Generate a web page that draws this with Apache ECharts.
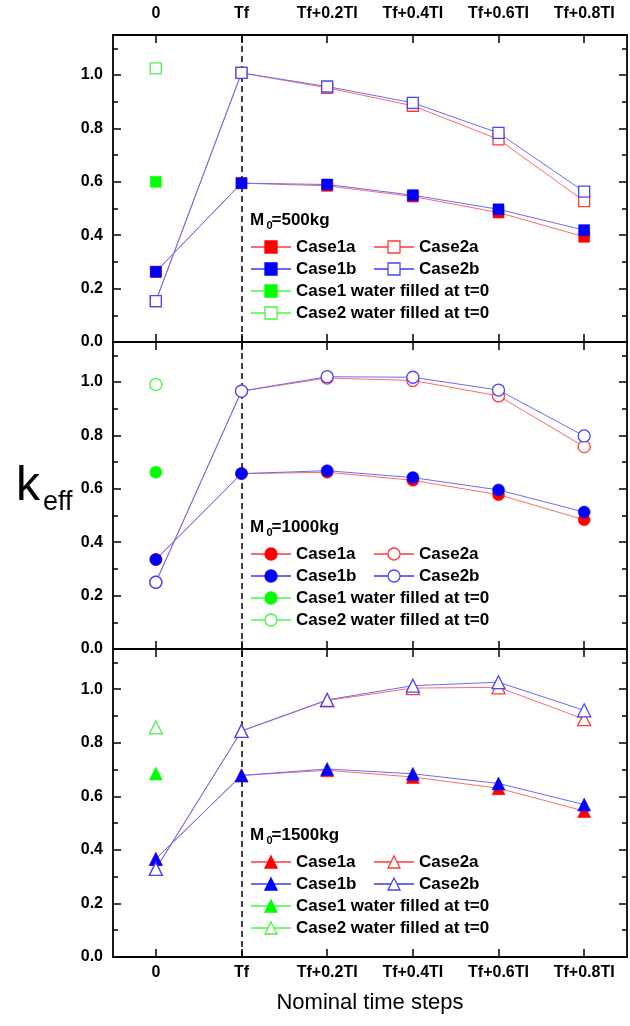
<!DOCTYPE html>
<html>
<head>
<meta charset="utf-8">
<title>keff</title>
<script src="https://cdn.jsdelivr.net/npm/echarts@6/dist/echarts.min.js"></script>
</head>
<body style="margin:0">
<div id="main" style="width:630px;height:1026px;"></div>
<script type="text/javascript">
var steps = ['0', 'Tf', 'Tf+0.2TI', 'Tf+0.4TI', 'Tf+0.6TI', 'Tf+0.8TI'];
var masses = ['500kg', '1000kg', '1500kg'];

// M0 = 500kg
var case1a_500 = [0.263, 0.595, 0.585, 0.545, 0.485, 0.394];
var case1b_500 = [0.263, 0.595, 0.590, 0.550, 0.497, 0.419];
var case2a_500 = [0.153, 1.008, 0.952, 0.885, 0.759, 0.528];
var case2b_500 = [0.153, 1.008, 0.957, 0.896, 0.783, 0.563];
// M0 = 1000kg
var case1a_1000 = [0.335, 0.657, 0.662, 0.632, 0.578, 0.484];
var case1b_1000 = [0.335, 0.657, 0.668, 0.642, 0.596, 0.513];
var case2a_1000 = [0.250, 0.966, 1.015, 1.006, 0.948, 0.758];
var case2b_1000 = [0.250, 0.966, 1.020, 1.018, 0.970, 0.798];
// M0 = 1500kg
var case1a_1500 = [0.366, 0.678, 0.697, 0.672, 0.630, 0.545];
var case1b_1500 = [0.366, 0.678, 0.702, 0.684, 0.648, 0.569];
var case2a_1500 = [0.329, 0.844, 0.958, 1.004, 1.007, 0.888];
var case2b_1500 = [0.329, 0.844, 0.960, 1.013, 1.026, 0.921];
// water filled at t=0 (one point each, at step 0)
var water1 = [0.600, 0.662, 0.685];
var water2 = [1.025, 0.991, 0.857];

var yTicks = [0, 0.2, 0.4, 0.6, 0.8, 1.0];

var FONT = '"Liberation Sans", Arial, sans-serif';
var panels = [
    { c1a: case1a_500, c1b: case1b_500, c2a: case2a_500, c2b: case2b_500, sym: 'rect', size: 11 },
    { c1a: case1a_1000, c1b: case1b_1000, c2a: case2a_1000, c2b: case2b_1000, sym: 'circle', size: 12 },
    { c1a: case1a_1500, c1b: case1b_1500, c2a: case2a_1500, c2b: case2b_1500, sym: 'triangle', size: 13 }
];
var gridBox = [{ top: 35, height: 307 }, { top: 342, height: 307 }, { top: 649, height: 308 }];

var axisLine = { show: true, onZero: false, lineStyle: { color: '#000', width: 1.8 } };
var tickStyle = { color: '#000', width: 1.5 };
var labelStyle = { color: '#000', fontFamily: FONT, fontWeight: 'bold', fontSize: 16 };

var grids = [], xAxes = [], yAxes = [], series = [], legends = [], graphics = [];

function mk(p, name, vals, color, lineColor, hollow) {
    var P = panels[p];
    return {
        name: p + '|' + name,
        type: 'line',
        xAxisIndex: p * 2,
        yAxisIndex: p * 4,
        data: vals,
        symbol: P.sym,
        symbolSize: P.size,
        lineStyle: { color: lineColor, width: 1 },
        itemStyle: { color: hollow ? '#fff' : color, borderColor: color, borderWidth: hollow ? 1.3 : 0.5 },
        emphasis: { disabled: true },
        animation: false
    };
}

function single(v) {
    return steps.map(function(s, i) { return i === 0 ? v : '-'; });
}

panels.forEach(function(P, p) {
    grids.push({ left: 113, right: 3, top: gridBox[p].top, height: gridBox[p].height });
    ['bottom', 'top'].forEach(function(pos) {
        var showLab = (pos === 'bottom' && p === 2) || (pos === 'top' && p === 0);
        var ax = {
            type: 'category', gridIndex: p, position: pos, data: steps, boundaryGap: true,
            axisLine: axisLine,
            axisTick: { show: true, inside: true, alignWithLabel: true, length: 8, lineStyle: tickStyle },
            axisLabel: { show: showLab, margin: pos === 'top' ? 13 : 8, interval: 0, textStyle: labelStyle },
            splitLine: { show: false }
        };
        if (pos === 'bottom' && p === 2) {
            ax.name = 'Nominal time steps';
            ax.nameLocation = 'middle';
            ax.nameGap = 35;
            ax.nameTextStyle = { color: '#000', fontFamily: FONT, fontSize: 22 };
        }
        xAxes.push(ax);
    });
    ['left', 'right'].forEach(function(pos) {
        yAxes.push({
            type: 'value', gridIndex: p, position: pos, min: 0, max: 1.15, interval: 0.2,
            axisLine: axisLine,
            axisTick: { show: true, inside: true, length: 8, lineStyle: tickStyle },
            axisLabel: {
                show: pos === 'left', margin: 10, textStyle: labelStyle,
                formatter: function(v) { return yTicks.indexOf(Math.round(v * 10) / 10) >= 0 && v < 1.05 ? v.toFixed(1) : ''; }
            },
            splitLine: { show: false }
        });
        yAxes.push({
            type: 'value', gridIndex: p, position: pos, min: 0, max: 1.15, interval: 0.1,
            axisLine: { show: false, onZero: false },
            axisTick: { show: true, inside: true, length: 5, lineStyle: tickStyle },
            axisLabel: { show: false },
            splitLine: { show: false }
        });
    });

    series.push(mk(p, 'Case1a', P.c1a, '#ff0000', '#ff6a6a', false));
    series.push(mk(p, 'Case2a', P.c2a, '#ff3a3a', '#ff6a6a', true));
    series.push(mk(p, 'Case1b', P.c1b, '#0000ff', '#6a6aff', false));
    series.push(mk(p, 'Case2b', P.c2b, '#4646ff', '#6a6aff', true));
    var w1 = mk(p, 'Case1 water filled at t=0', single(water1[p]), '#00ff00', '#70ff70', false);
    w1.markLine = {
        silent: true, symbol: 'none', z: 1, animation: false,
        label: { show: false },
        lineStyle: { color: '#000', type: [6, 4], width: 1.5 },
        data: [{ xAxis: 'Tf' }]
    };
    series.push(w1);
    series.push(mk(p, 'Case2 water filled at t=0', single(water2[p]), '#4cf04c', '#70ff70', true));

    var base = gridBox[p].top + gridBox[p].height;
    var rowTop = base - 95 - 8.5;
    var legCommon = {
        orient: 'vertical', padding: 0, itemGap: 5, itemWidth: 40, itemHeight: 15,
        selectedMode: false, top: rowTop,
        itemStyle: { borderWidth: 1.3 },
        textStyle: { color: '#000', fontFamily: FONT, fontWeight: 'bold', fontSize: 17 },
        formatter: function(n) { return n.split('|')[1]; }
    };
    legends.push(Object.assign({}, legCommon, {
        left: 250,
        data: [p + '|Case1a', p + '|Case1b', p + '|Case1 water filled at t=0', p + '|Case2 water filled at t=0']
    }));
    legends.push(Object.assign({}, legCommon, {
        left: 373,
        data: [p + '|Case2a', p + '|Case2b']
    }));

    var ty = base - 122;
    graphics.push({ type: 'text', style: { x: 250, y: ty, text: 'M', font: 'bold 17px ' + FONT, fill: '#000', textVerticalAlign: 'middle' } });
    graphics.push({ type: 'text', style: { x: 266.5, y: ty + 6, text: '0', font: 'bold 11px ' + FONT, fill: '#000', textVerticalAlign: 'middle' } });
    graphics.push({ type: 'text', style: { x: 271.5, y: ty, text: '=' + masses[p], font: 'bold 17px ' + FONT, fill: '#000', textVerticalAlign: 'middle' } });
});

graphics.push({ type: 'text', style: { x: 16, y: 487, text: 'k', font: '48px ' + FONT, fill: '#000', textVerticalAlign: 'middle' } });
graphics.push({ type: 'text', style: { x: 43, y: 503, text: 'eff', font: '27px ' + FONT, fill: '#000', textVerticalAlign: 'middle' } });

var myChart = echarts.init(document.getElementById('main'));
myChart.setOption({
    animation: false,
    backgroundColor: '#fff',
    grid: grids,
    xAxis: xAxes,
    yAxis: yAxes,
    legend: legends,
    graphic: graphics,
    series: series
});
</script>
</body>
</html>
